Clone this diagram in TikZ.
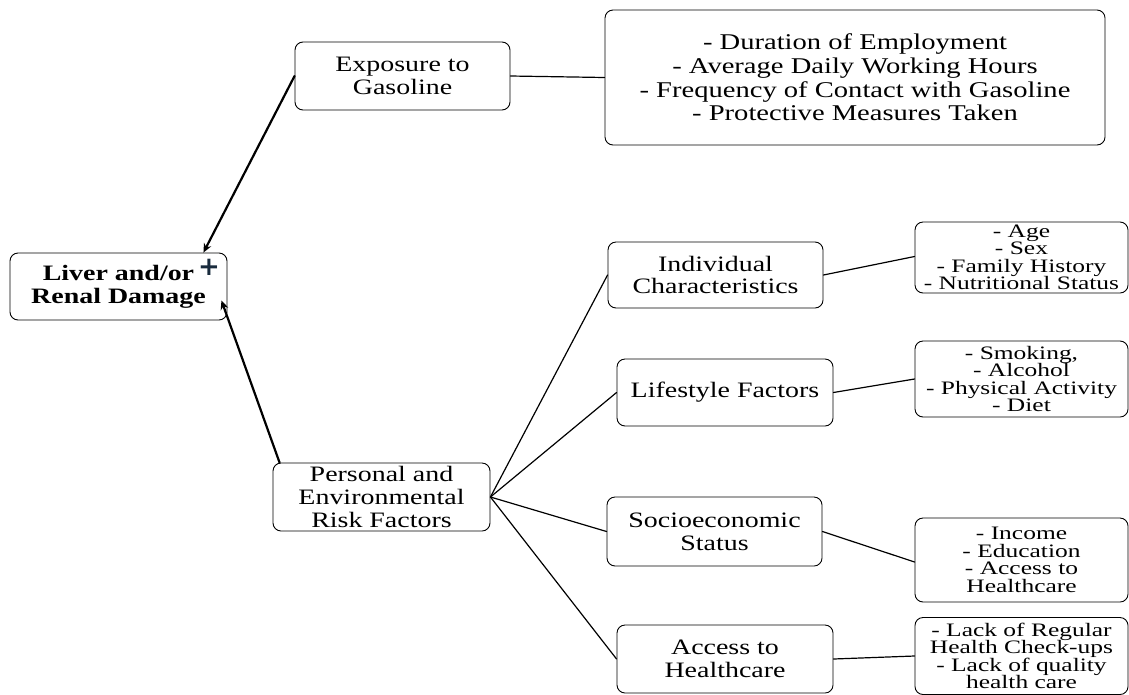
\documentclass[tikz,border=0pt]{standalone}
\usepackage{fontspec}
\setmainfont[FakeStretch=1.27]{Liberation Serif}
\newfontfamily\listfont[FakeStretch=1.34]{Liberation Serif}
\newfontfamily\plusfont{DejaVu Sans}
\usepackage{tikz}
\usetikzlibrary{calc}
\usetikzlibrary{arrows.meta}
\definecolor{plusdark}{rgb}{0.1,0.17,0.24}
\tikzstyle{box}=[draw, rounded corners=8pt, line width=0.9pt, align=center, inner sep=2pt, font=\rmfamily\fontsize{22}{22.7}\selectfont]
\tikzstyle{listbox}=[box, font=\listfont\fontsize{19}{17.5}\selectfont]
\tikzstyle{link}=[line width=1.2pt]
\tikzstyle{feed}=[line width=2.2pt, -{Stealth[length=9pt,width=8pt]}]

\begin{document}
\begin{tikzpicture}[line cap=round,line join=round,x=1pt,y=-1pt]
            \useasboundingbox (0,0) rectangle (1129,694);
            \node [box, minimum width=217pt, minimum height=67pt, font=\rmfamily\bfseries\fontsize{22}{23}\selectfont] (liver) at (118.5,286.5) {Liver and/or\\Renal Damage};
            \node [box, minimum width=215pt, minimum height=68pt] (expo) at (402.5,76) {Exposure to\\Gasoline};
            \node [box, minimum width=500pt, minimum height=135pt, font=\rmfamily\fontsize{22.5}{23.7}\selectfont] (dur) at (855,77.5) {- Duration of Employment\\- Average Daily Working Hours\\- Frequency of Contact with Gasoline\\- Protective Measures Taken};
            \node [box, minimum width=217pt, minimum height=68pt] (pers) at (381.5,497) {Personal and\\Environmental\\Risk Factors};
            \node [box, minimum width=215pt, minimum height=66pt] (indiv) at (715.5,275) {Individual\\Characteristics};
            \node [box, minimum width=216pt, minimum height=67pt] (life) at (725,392.5) {Lifestyle Factors};
            \node [box, minimum width=215pt, minimum height=69pt] (socio) at (714.5,531.5) {Socioeconomic\\Status};
            \node [box, minimum width=216pt, minimum height=68pt] (access) at (725,659) {Access to\\Healthcare};
            \node [listbox, minimum width=213pt, minimum height=71pt] (age) at (1021.5,257.5) {- Age\\- Sex\\- Family History\\- Nutritional Status};
            \node [listbox, minimum width=213pt, minimum height=76pt] (smoke) at (1021.5,379) {- Smoking,\\- Alcohol\\- Physical Activity\\- Diet};
            \node [listbox, minimum width=213pt, minimum height=84pt] (income) at (1021.5,560) {- Income\\- Education\\- Access to\\Healthcare};
            \node [listbox, minimum width=213pt, minimum height=77pt] (lack) at (1021.5,656) {- Lack of Regular\\Health Check-ups\\- Lack of quality\\health care};
            \node [text=plusdark, font=\plusfont\bfseries\fontsize{26}{26}\selectfont, inner sep=0pt] (plus) at (209,267) {+};

            \draw [feed] (expo.west) -- ([xshift=-24pt]liver.north east);
            \draw [feed] ([xshift=7pt]pers.north west) -- ([xshift=-6pt,yshift=-14pt]liver.east);
            \draw [link] (expo.east) -- (dur.west);
            \draw [link] (pers.east) -- (indiv.west);
            \draw [link] (pers.east) -- (life.west);
            \draw [link] (pers.east) -- (socio.west);
            \draw [link] (pers.east) -- (access.west);
            \draw [link] (indiv.east) -- ([yshift=1pt]age.west);
            \draw [link] (life.east) -- (smoke.west);
            \draw [link] (socio.east) -- ([yshift=-2pt]income.west);
            \draw [link] (access.east) -- (lack.west);
\end{tikzpicture}
\end{document}
